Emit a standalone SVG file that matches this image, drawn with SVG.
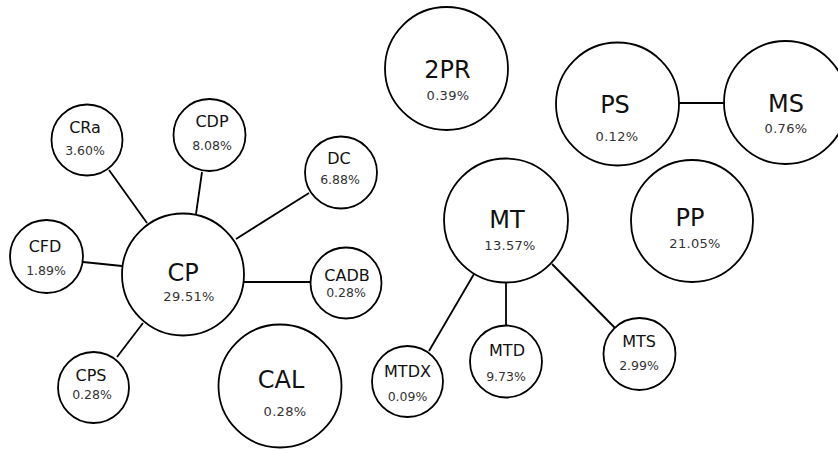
<svg xmlns="http://www.w3.org/2000/svg" width="838" height="449" viewBox="0 0 838 449">
<style>
.n{fill:#fff;stroke:#000;stroke-width:1.8}
.e{stroke:#000;stroke-width:1.8;fill:none}
text{font-family:"DejaVu Sans",sans-serif;text-anchor:middle}
.sl{font-size:16px;fill:#111}
.sp{font-size:12.5px;fill:#333}
.bl{font-size:24px;fill:#111}
.bp{font-size:13px;fill:#333;letter-spacing:0.3px}
</style>
<rect width="838" height="449" fill="#fff"/>
<g id="connectors">
<line class="e" x1="109" y1="170" x2="147" y2="223"/>
<line class="e" x1="202" y1="172" x2="196" y2="214"/>
<line class="e" x1="309" y1="193" x2="236" y2="239"/>
<line class="e" x1="83" y1="262" x2="122" y2="266"/>
<line class="e" x1="244" y1="282" x2="311" y2="282"/>
<line class="e" x1="143" y1="323" x2="117" y2="357"/>
<line class="e" x1="679" y1="103" x2="724" y2="103"/>
<line class="e" x1="474" y1="274" x2="429" y2="351"/>
<line class="e" x1="506" y1="283" x2="506" y2="325"/>
<line class="e" x1="552" y1="264" x2="615" y2="328"/>
</g>
<g id="CRa"><circle class="n" cx="87" cy="140" r="35.5"/><text class="sl" x="85" y="133">CRa</text><text class="sp" x="85" y="155">3.60%</text></g>
<g id="CDP"><circle class="n" cx="209.5" cy="135" r="36"/><text class="sl" x="212" y="127">CDP</text><text class="sp" x="212" y="150">8.08%</text></g>
<g id="DC"><circle class="n" cx="341" cy="172.5" r="36"/><text class="sl" x="339" y="164">DC</text><text class="sp" x="340" y="184">6.88%</text></g>
<g id="CFD"><circle class="n" cx="46.5" cy="256.5" r="36.5"/><text class="sl" x="45" y="252">CFD</text><text class="sp" x="46" y="275">1.89%</text></g>
<g id="CP"><circle class="n" cx="183" cy="274.5" r="61"/><text class="bl" x="183" y="281">CP</text><text class="bp" x="189" y="301">29.51%</text></g>
<g id="CADB"><circle class="n" cx="346" cy="283" r="35.5"/><text class="sl" x="347" y="281">CADB</text><text class="sp" x="346" y="297">0.28%</text></g>
<g id="CPS"><circle class="n" cx="93.5" cy="387.5" r="35.5"/><text class="sl" x="91" y="381">CPS</text><text class="sp" x="92" y="399">0.28%</text></g>
<g id="CAL"><circle class="n" cx="280" cy="386" r="61.5"/><text class="bl" x="281" y="388">CAL</text><text class="bp" x="285" y="416">0.28%</text></g>
<g id="2PR"><circle class="n" cx="446.5" cy="68.5" r="61.5"/><text class="bl" x="447.5" y="78">2PR</text><text class="bp" x="448" y="100">0.39%</text></g>
<g id="PS"><circle class="n" cx="617.5" cy="104" r="61.5"/><text class="bl" x="615" y="113">PS</text><text class="bp" x="617" y="141">0.12%</text></g>
<g id="MS"><circle class="n" cx="785.5" cy="102.5" r="61.5"/><text class="bl" x="786" y="112">MS</text><text class="bp" x="786" y="133">0.76%</text></g>
<g id="MT"><circle class="n" cx="506" cy="220.5" r="62"/><text class="bl" x="507" y="228">MT</text><text class="bp" x="510" y="250">13.57%</text></g>
<g id="PP"><circle class="n" cx="692" cy="221" r="61"/><text class="bl" x="690" y="226">PP</text><text class="bp" x="695" y="248">21.05%</text></g>
<g id="MTDX"><circle class="n" cx="407.5" cy="381.5" r="35.5"/><text class="sl" x="407.5" y="377">MTDX</text><text class="sp" x="407.5" y="401">0.09%</text></g>
<g id="MTD"><circle class="n" cx="506" cy="361.5" r="36"/><text class="sl" x="507" y="356">MTD</text><text class="sp" x="506" y="381">9.73%</text></g>
<g id="MTS"><circle class="n" cx="639.5" cy="354" r="36"/><text class="sl" x="639" y="347">MTS</text><text class="sp" x="639" y="370">2.99%</text></g>
</svg>
